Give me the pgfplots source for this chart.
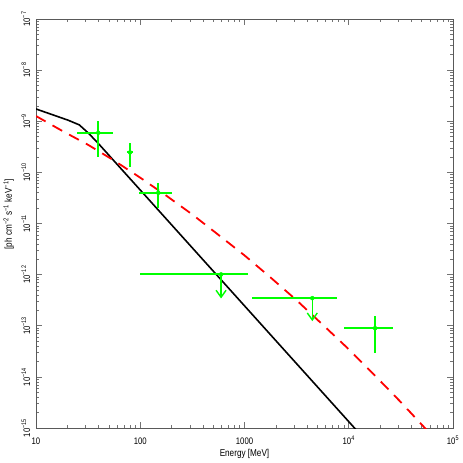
\documentclass[border=0pt]{standalone}
\usepackage{fontspec}
\setmainfont{Liberation Sans}[FakeStretch=0.82]
\usepackage{pgfplots}
\pgfplotsset{compat=1.18}
\usetikzlibrary{arrows.meta}
\newcommand{\sups}[1]{\textsuperscript{#1}}
\begin{document}
\begin{tikzpicture}
\begin{axis}[
  scale only axis,
  width=417bp, height=409bp,
  xmode=log, ymode=log,
  xmin=10, xmax=1e5, ymin=1e-15, ymax=1e-7,
  xtick={10,100,1000,10000,100000},
  ytick={1e-15,1e-14,1e-13,1e-12,1e-11,1e-10,1e-9,1e-8,1e-7},
  minor xtick={20,30,40,50,60,70,80,90,200,300,400,500,600,700,800,900,
    2000,3000,4000,5000,6000,7000,8000,9000,20000,30000,40000,50000,60000,70000,80000,90000},
  minor ytick={2e-15,3e-15,4e-15,5e-15,6e-15,7e-15,8e-15,9e-15,
    2e-14,3e-14,4e-14,5e-14,6e-14,7e-14,8e-14,9e-14,
    2e-13,3e-13,4e-13,5e-13,6e-13,7e-13,8e-13,9e-13,
    2e-12,3e-12,4e-12,5e-12,6e-12,7e-12,8e-12,9e-12,
    2e-11,3e-11,4e-11,5e-11,6e-11,7e-11,8e-11,9e-11,
    2e-10,3e-10,4e-10,5e-10,6e-10,7e-10,8e-10,9e-10,
    2e-9,3e-9,4e-9,5e-9,6e-9,7e-9,8e-9,9e-9,
    2e-8,3e-8,4e-8,5e-8,6e-8,7e-8,8e-8,9e-8},
  xticklabels={10,100,1000,10\sups{4},10\sups{5}},
  yticklabels={10\sups{−15},10\sups{−14},10\sups{−13},10\sups{−12},10\sups{−11},10\sups{−10},10\sups{−9},10\sups{−8},10\sups{−7}},
  tick align=inside,
  major tick length=6bp, minor tick length=3bp,
  axis line style={black!65, line width=0.8bp},
  every tick/.style={black!55, line width=0.6bp},
  tick label style={font=\fontsize{9.5}{10}\selectfont},
  xticklabel style={anchor=base},
  xticklabel shift=16bp,
  yticklabel style={rotate=90, anchor=base},
  yticklabel shift=6bp,
  label style={font=\fontsize{10}{12}\selectfont},
  xlabel={Energy [MeV]},
  ylabel={[ph cm\sups{−2} s\sups{−1} keV\sups{−1}]},
  xlabel style={at={(axis description cs:0.5,-0.0685)}, anchor=base},
  ylabel style={at={(axis description cs:-0.0576,0.523)}, anchor=base},
  clip=true,
]
% power-law model (black)
\addplot[black, line width=1.6bp] coordinates {
  (10,1.74e-9) (20.3,1.05e-9) (26,8.5e-10) (32,5.8e-10) (40,3.6e-10) (12600,7.9e-16)
};
% curved model (red dashed)
\addplot[red, line width=1.8bp, dash pattern=on 11bp off 8bp] coordinates {
  (10,1.265e-9) (17.8,6.5e-10) (31.6,3.46e-10) (56.2,1.7e-10) (100,7.88e-11) (178,3.5e-11)
  (316,1.50e-11) (562,6.0e-12) (1000,2.38e-12) (1778,8.8e-13) (3162,3.15e-13)
  (5623,1.05e-13) (10000,3.47e-14) (17780,1.07e-14) (31620,3.20e-15) (56230,9.06e-16)
};
% data points with error bars (green)
\addplot[green, only marks, mark=none,
  error bars/.cd, x dir=both, x explicit, y dir=both, y explicit,
  error mark=none, error bar style={green, line width=2bp}]
coordinates {
  (39.6,5.96e-10) += (15.5,4.24e-10) -= (15.1,3.99e-10)
  (79.8,2.46e-10) += (5.0,1.33e-10) -= (5.7,1.17e-10)
  (149,3.99e-11) += (51,2.11e-11) -= (51,2.01e-11)
  (17900,8.97e-14) += (8800,6.43e-14) -= (8840,6.02e-14)
};
% upper limits: horizontal bars
\addplot[green, only marks, mark=none,
  error bars/.cd, x dir=both, x explicit,
  error mark=none, error bar style={green, line width=2bp}]
coordinates {
  (596,1.01e-12) += (491,0) -= (496.5,0)
  (4470,3.47e-13) += (3290,0) -= (3281,0)
};
% upper limit arrows
\addplot[green, line width=1.4bp, -{Straight Barb[length=7bp,width=10bp]}] coordinates {(596,1.01e-12) (596,3.42e-13)};
\addplot[green, line width=1.4bp, -{Straight Barb[length=7bp,width=10bp]}] coordinates {(4470,3.47e-13) (4470,1.23e-13)};
\end{axis}
\pgfresetboundingbox
\path ([xshift=-36bp,yshift=-35bp]current axis.south west) rectangle ([xshift=10bp,yshift=19bp]current axis.north east);
\end{tikzpicture}
\end{document}
